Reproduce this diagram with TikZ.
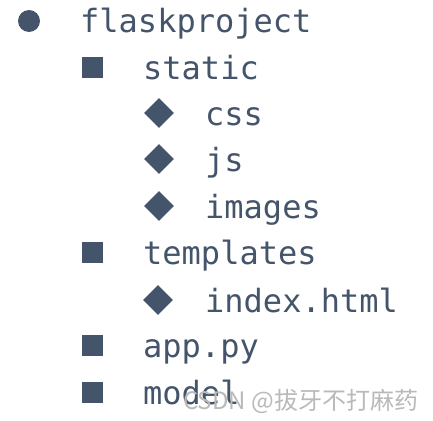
\documentclass[tikz,border=0pt]{standalone}
\usepackage{fontspec}
\setmonofont{DejaVu Sans Mono}
\newfontfamily\cjk{Noto Sans CJK SC}
\usetikzlibrary{shapes.geometric}
\definecolor{slate}{RGB}{68,84,106}
\tikzset{
  item/.style={anchor=base west, inner sep=0pt, font=\fontsize{32}{32}\selectfont\ttfamily, text=slate},
  dotbullet/.style={circle, fill=slate, inner sep=0pt, minimum size=22pt},
  sqbullet/.style={rectangle, fill=slate, inner sep=0pt, minimum size=21pt},
  dmbullet/.style={diamond, fill=slate, inner sep=0pt, minimum width=30pt, minimum height=30pt},
  wmark/.style={anchor=base west, inner sep=0pt, font=\fontsize{24}{24}\selectfont\cjk, text=gray!55}
}
\begin{document}
\begin{tikzpicture}[x=1pt,y=-1pt]
\useasboundingbox (0,0) rectangle (433,420);
\node[dotbullet] (b1) at (29,21) {};
\node[item] (t1) at (80,33) {flaskproject};
\node[sqbullet] (b2) at (92,67) {};
\node[item] (t2) at (143,79) {static};
\node[dmbullet] (b3) at (159,113) {};
\node[item] (t3) at (205,125) {css};
\node[dmbullet] (b4) at (159,159) {};
\node[item] (t4) at (205,171) {js};
\node[dmbullet] (b5) at (159,206) {};
\node[item] (t5) at (205,218) {images};
\node[sqbullet] (b6) at (92,252) {};
\node[item] (t6) at (143,264) {templates};
\node[dmbullet] (b7) at (158,300) {};
\node[item] (t7) at (205,312) {index.html};
\node[sqbullet] (b8) at (92,345) {};
\node[item] (t8) at (143,357) {app.py};
\node[sqbullet] (b9) at (92,392) {};
\node[item] (t9) at (143,404) {model};
\node[wmark] (wm) at (183,409) {CSDN @拔牙不打麻药};
\end{tikzpicture}
\end{document}
